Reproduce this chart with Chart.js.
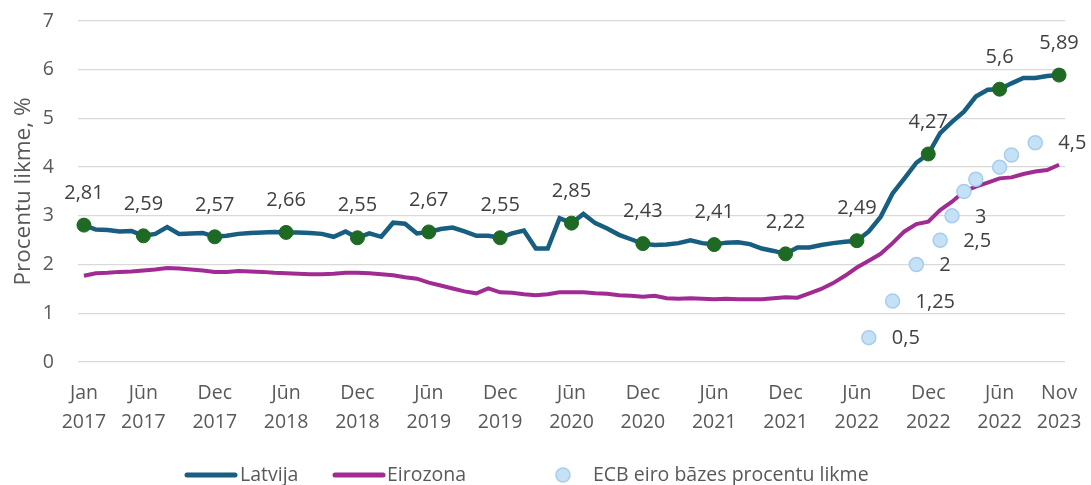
<!DOCTYPE html>
<html>
<head>
<meta charset="utf-8">
<script src="https://cdn.jsdelivr.net/npm/chart.js@4.4.0/dist/chart.umd.min.js"></script>
<style>
  html, body { margin: 0; padding: 0; background: #fff; }
  #wrap { width: 1091px; height: 485px; }
</style>
</head>
<body>
<div id="wrap"><canvas id="rates-chart" width="1091" height="485"></canvas></div>
<script>
// monthly categories Jan 2017 .. Nov 2023
const months = [];
for (let y = 2017; y <= 2023; y++) {
  for (let m = 1; m <= 12; m++) {
    if (y === 2023 && m > 11) break;
    months.push(y + "-" + String(m).padStart(2, "0"));
  }
}

const latvia = [
  2.81, 2.72, 2.71, 2.68, 2.69, 2.59, 2.63, 2.77, 2.63, 2.64,
  2.65, 2.57, 2.59, 2.63, 2.65, 2.66, 2.67, 2.66, 2.66, 2.65,
  2.63, 2.57, 2.68, 2.55, 2.64, 2.57, 2.86, 2.84, 2.64, 2.67,
  2.73, 2.76, 2.68, 2.59, 2.59, 2.55, 2.64, 2.70, 2.33, 2.33,
  2.95, 2.85, 3.04, 2.85, 2.74, 2.61, 2.52, 2.43, 2.40, 2.41,
  2.44, 2.50, 2.44, 2.41, 2.45, 2.46, 2.42, 2.33, 2.28, 2.22,
  2.35, 2.35, 2.40, 2.44, 2.47, 2.49, 2.68, 2.98, 3.46, 3.77,
  4.09, 4.27, 4.70, 4.93, 5.14, 5.45, 5.59, 5.60, 5.72, 5.83,
  5.83, 5.87, 5.89
];

const eurozone = [
  1.77, 1.82, 1.83, 1.85, 1.86, 1.88, 1.90, 1.93, 1.92, 1.90,
  1.88, 1.85, 1.85, 1.87, 1.86, 1.85, 1.83, 1.82, 1.81, 1.80,
  1.80, 1.81, 1.83, 1.83, 1.82, 1.80, 1.78, 1.74, 1.71, 1.63,
  1.57, 1.51, 1.45, 1.41, 1.51, 1.43, 1.42, 1.39, 1.37, 1.39,
  1.43, 1.43, 1.43, 1.41, 1.40, 1.37, 1.36, 1.34, 1.36, 1.31,
  1.30, 1.31, 1.30, 1.29, 1.30, 1.29, 1.29, 1.29, 1.31, 1.33,
  1.32, 1.41, 1.50, 1.62, 1.77, 1.94, 2.08, 2.22, 2.44, 2.68,
  2.83, 2.88, 3.12, 3.29, 3.50, 3.60, 3.68, 3.77, 3.79, 3.86,
  3.91, 3.94, 4.05
];

// ECB base rate changes (month index -> rate)
const ecbMonths = [66, 68, 70, 72, 73, 74, 75, 77, 78, 80];
const ecbRates = [0.5, 1.25, 2, 2.5, 3, 3.5, 3.75, 4, 4.25, 4.5];
const ecbLabelled = [0.5, 1.25, 2, 2.5, 3, 4.5];

// Latvia points that get a marker and a value label
const markedMonths = [0, 5, 11, 17, 23, 29, 35, 41, 47, 53, 59, 65, 71, 77, 82];

const tickMonths = [0, 5, 11, 17, 23, 29, 35, 41, 47, 53, 59, 65, 71, 77, 82];
const tickLabels = [
  ["Jan", "2017"], ["Jūn", "2017"], ["Dec", "2017"], ["Jūn", "2018"],
  ["Dec", "2018"], ["Jūn", "2019"], ["Dec", "2019"], ["Jūn", "2020"],
  ["Dec", "2020"], ["Jūn", "2021"], ["Dec", "2021"], ["Jūn", "2022"],
  ["Dec", "2022"], ["Jūn", "2022"], ["Nov", "2023"]
];

const legendNames = ["Latvija", "Eirozona", "ECB eiro bāzes procentu likme"];

const COLOR_LV = "#185e80";
const COLOR_EZ = "#a02b93";
const COLOR_MARK = "#1e6923";
const COLOR_ECB = "#c5e1f5";
const COLOR_ECB_BORDER = "#a8cdec";
const FONT = '"Open Sans", "Noto Sans", sans-serif';
const HIDDEN = "rgba(0,0,0,0)";

let ecbData = months.map(() => null);
ecbMonths.forEach(function (m, i) {
  ecbData[m] = ecbRates[i];
});

function fmt(v) {
  return String(v).replace(".", ",");
}

let markerRadius = months.map(function (m, i) {
  return markedMonths.includes(i) ? 7 : 0;
});

// value labels: above Latvia markers, right of ECB dots
const valueLabels = {
  id: "valueLabels",
  afterDatasetsDraw(chart) {
    const ctx = chart.ctx;
    ctx.save();
    ctx.font = "20px " + FONT;
    ctx.fillStyle = "#404040";
    ctx.textBaseline = "middle";
    ctx.textAlign = "center";
    let lv = chart.getDatasetMeta(0);
    markedMonths.forEach(function (i) {
      let p = lv.data[i];
      ctx.fillText(fmt(latvia[i]), p.x, p.y - 32);
    });
    let ecb = chart.getDatasetMeta(2);
    ctx.textAlign = "left";
    ecbMonths.forEach(function (m, i) {
      if (!ecbLabelled.includes(ecbRates[i])) return;
      let p = ecb.data[m];
      ctx.fillText(fmt(ecbRates[i]), p.x + 23, p.y + 1);
    });
    ctx.restore();
  },
};

// bottom legend with equal-width keys
const bottomLegend = {
  id: "bottomLegend",
  afterDraw(chart) {
    const ctx = chart.ctx;
    const y = 475;
    const starts = [185, 333, 537];
    ctx.save();
    ctx.font = "19.5px " + FONT;
    ctx.textBaseline = "middle";
    ctx.textAlign = "left";
    ctx.lineCap = "round";
    ctx.lineWidth = 5;
    [COLOR_LV, COLOR_EZ].forEach(function (c, i) {
      ctx.strokeStyle = c;
      ctx.beginPath();
      ctx.moveTo(starts[i] + 2, y);
      ctx.lineTo(starts[i] + 50, y);
      ctx.stroke();
    });
    ctx.beginPath();
    ctx.arc(starts[2] + 26, y, 7, 0, Math.PI * 2);
    ctx.fillStyle = COLOR_ECB;
    ctx.fill();
    ctx.lineWidth = 1.5;
    ctx.strokeStyle = COLOR_ECB_BORDER;
    ctx.stroke();
    ctx.fillStyle = "#595959";
    ctx.fillText(legendNames[0], starts[0] + 55, y);
    ctx.fillText(legendNames[1], starts[1] + 54, y);
    ctx.fillText(legendNames[2], starts[2] + 56, y);
    ctx.restore();
  },
};

let config = {
  type: "line",
  data: {
    labels: months,
    datasets: [
      {
        label: legendNames[0],
        data: latvia,
        borderColor: COLOR_LV,
        borderWidth: 4.5,
        pointRadius: markerRadius,
        pointBackgroundColor: COLOR_MARK,
        pointBorderColor: COLOR_MARK,
        pointBorderWidth: 1,
        tension: 0,
        order: 1,
      },
      {
        label: legendNames[1],
        data: eurozone,
        borderColor: COLOR_EZ,
        borderWidth: 4,
        pointRadius: 0,
        tension: 0,
        order: 2,
      },
      {
        label: legendNames[2],
        data: ecbData,
        showLine: false,
        pointRadius: 7,
        pointBackgroundColor: COLOR_ECB,
        pointBorderColor: COLOR_ECB_BORDER,
        pointBorderWidth: 1.5,
        order: 0,
      },
    ],
  },
  options: {
    responsive: false,
    animation: false,
    devicePixelRatio: 1,
    layout: {
      padding: { top: 21, right: 26, left: 0, bottom: 0 },
    },
    plugins: {
      legend: { display: false },
      tooltip: { enabled: false },
    },
    scales: {
      x: {
        type: "category",
        offset: true,
        // transparent tick marks give the label gap (tick padding would eat the right margin)
        grid: {
          display: true,
          drawOnChartArea: false,
          drawTicks: true,
          tickLength: 17,
          tickColor: HIDDEN,
          color: HIDDEN,
        },
        border: { display: false },
        ticks: {
          autoSkip: false,
          maxRotation: 0,
          padding: 0,
          color: "#595959",
          font: { family: FONT, size: 19.5, lineHeight: 1.48 },
          callback: function (value, index) {
            let k = tickMonths.indexOf(index);
            return k >= 0 ? tickLabels[k] : null;
          },
        },
        afterFit: function (scale) {
          scale.height = 123;
        },
      },
      y: {
        min: 0,
        max: 7,
        grid: {
          color: "#d9d9d9",
          lineWidth: 1.3,
          drawTicks: true,
          tickLength: 24,
          tickColor: HIDDEN,
        },
        border: { display: false },
        ticks: {
          stepSize: 1,
          padding: 0,
          color: "#595959",
          font: { family: FONT, size: 19.5 },
        },
        title: {
          display: true,
          text: "Procentu likme, %",
          color: "#595959",
          font: { family: FONT, size: 22.5 },
          padding: { top: 10, bottom: 0 },
        },
        afterFit: function (scale) {
          scale.width = 78;
        },
      },
    },
  },
  plugins: [valueLabels, bottomLegend],
};

let ratesChart = new Chart(document.getElementById("rates-chart"), config);
</script>
</body>
</html>
